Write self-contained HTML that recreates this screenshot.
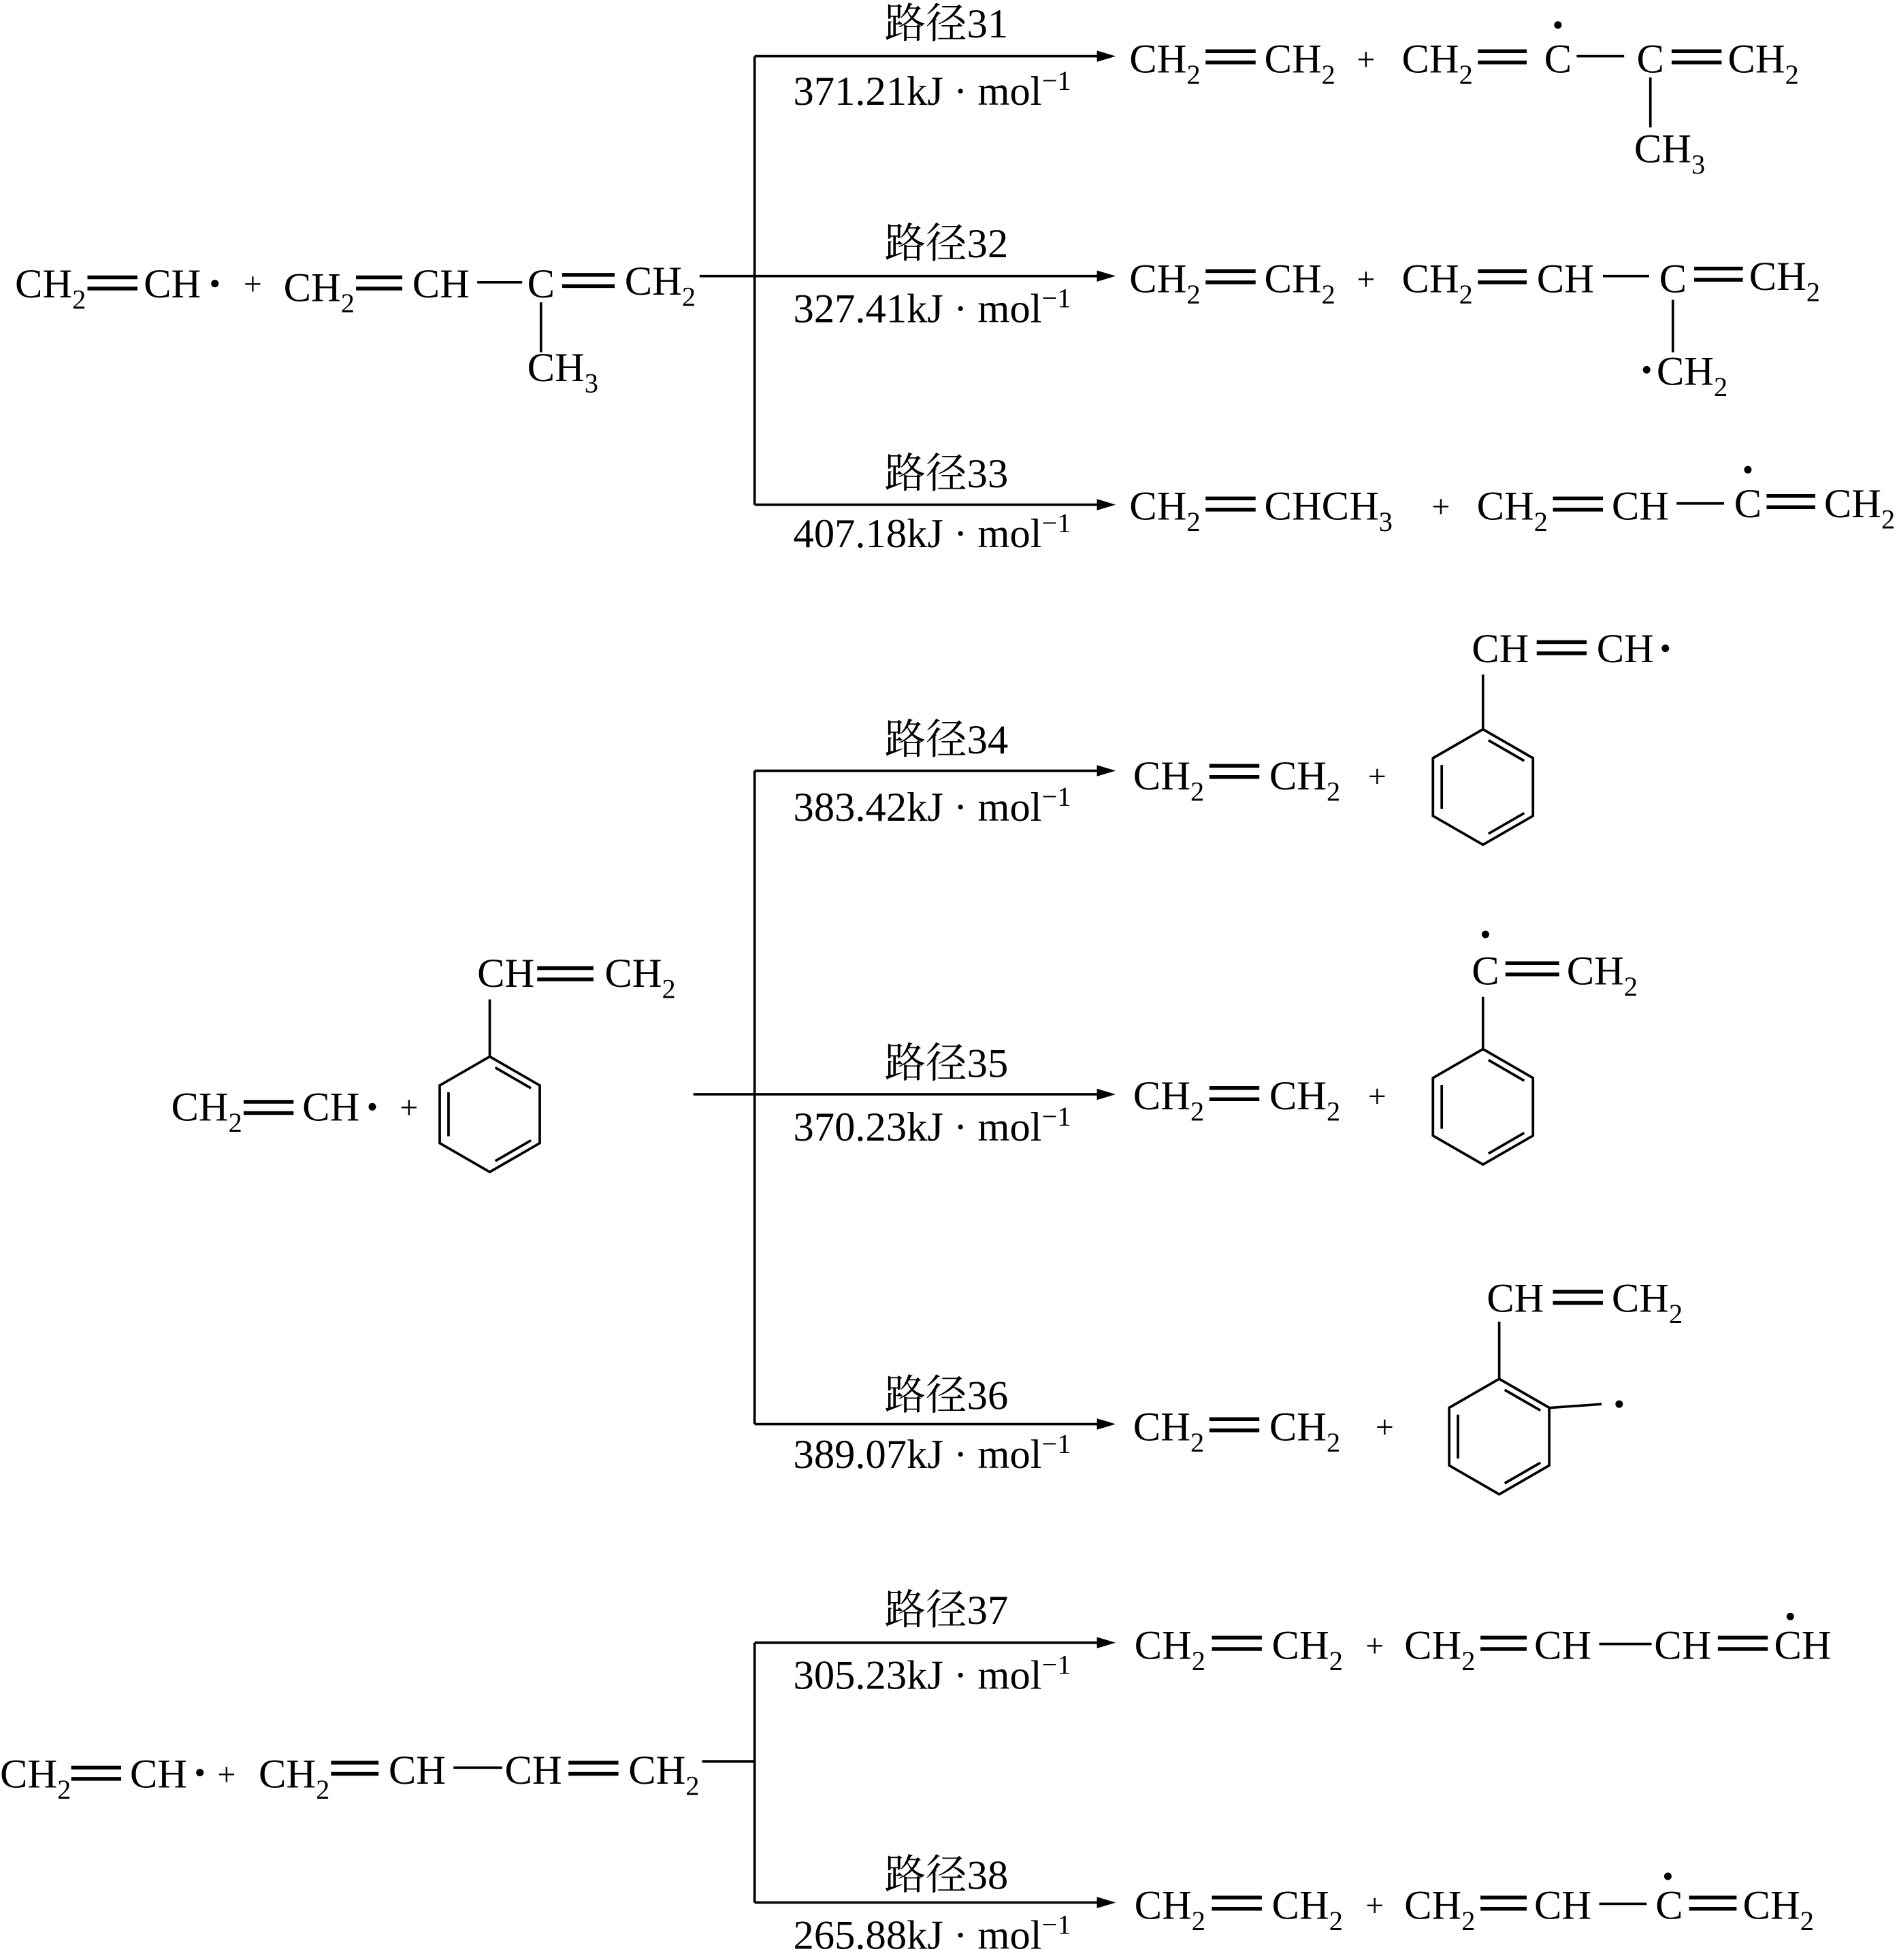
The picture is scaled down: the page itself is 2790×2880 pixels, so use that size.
<!DOCTYPE html>
<html><head><meta charset="utf-8"><style>
html,body{margin:0;padding:0;background:#fff;}
svg{display:block;}
text{font-family:"Liberation Serif","Noto Serif CJK SC",serif;font-size:33px;fill:#000;}
.s{font-size:22px;}
.p{font-size:26px;}
.cn{font-family:"Liberation Serif","Noto Serif CJK SC","Noto Sans CJK SC",serif;}
line,polyline,polygon.b{stroke:#000;stroke-width:2;fill:none;}
.d{stroke-width:3;}
circle{r:3px;}
</style></head><body>
<svg width="2790" height="2880" viewBox="0 0 1520 1569" preserveAspectRatio="none" xmlns="http://www.w3.org/2000/svg">
<defs>
<g id="bz0">
<polygon class="b" points="0,-42 36.4,-21 36.4,21 0,42 -36.4,21 -36.4,-21" style="stroke-width:1.85"/>
<line x1="4" y1="-34" x2="30" y2="-19" style="stroke-width:1.85"/>
<line x1="30" y1="19" x2="4" y2="34" style="stroke-width:1.85"/>
<line x1="-30" y1="16" x2="-30" y2="-16" style="stroke-width:1.85"/>
</g>
<g id="bz"><use href="#bz0" transform="scale(1.1)"/></g>
<g id="ah"><polygon points="0,0 -15,-4.5 -15,4.5" fill="#000"/></g>
</defs>

<!-- ===== Section 1 ===== -->
<text x="12" y="238">CH<tspan class="s" dy="9">2</tspan></text>
<line class="d" x1="70" y1="222" x2="110" y2="222"/><line class="d" x1="70" y1="231" x2="110" y2="231"/>
<text x="115" y="238">CH</text><circle cx="172" cy="227" r="3"/>
<text class="p" x="195" y="236">+</text>
<text x="227" y="241">CH<tspan class="s" dy="9">2</tspan></text>
<line class="d" x1="285" y1="222" x2="322" y2="222"/><line class="d" x1="285" y1="231" x2="322" y2="231"/>
<text x="330" y="238">CH</text>
<line x1="382" y1="226" x2="418" y2="226"/>
<text x="422" y="238">C</text>
<line class="d" x1="450" y1="220" x2="492" y2="220"/><line class="d" x1="450" y1="229" x2="492" y2="229"/>
<text x="500" y="236">CH<tspan class="s" dy="9">2</tspan></text>
<line x1="433" y1="242" x2="433" y2="282"/>
<text x="422" y="305">CH<tspan class="s" dy="9">3</tspan></text>
<line x1="560" y1="221" x2="604" y2="221"/>
<line x1="604" y1="45" x2="604" y2="404"/>

<line x1="604" y1="45" x2="886" y2="45"/><use href="#ah" x="893" y="45"/>
<line x1="604" y1="221" x2="886" y2="221"/><use href="#ah" x="893" y="221"/>
<line x1="604" y1="404" x2="886" y2="404"/><use href="#ah" x="893" y="404"/>

<text class="cn" x="708" y="30">路径31</text>
<text x="635" y="84">371.21kJ · mol<tspan class="s" dy="-12">−1</tspan></text>
<text class="cn" x="708" y="206">路径32</text>
<text x="635" y="258">327.41kJ · mol<tspan class="s" dy="-12">−1</tspan></text>
<text class="cn" x="708" y="390">路径33</text>
<text x="635" y="438">407.18kJ · mol<tspan class="s" dy="-12">−1</tspan></text>

<!-- 31 -->
<text x="904" y="58">CH<tspan class="s" dy="9">2</tspan></text>
<line class="d" x1="965" y1="41" x2="1005" y2="41"/><line class="d" x1="965" y1="50" x2="1005" y2="50"/>
<text x="1012" y="58">CH<tspan class="s" dy="9">2</tspan></text>
<text class="p" x="1086" y="56">+</text>
<text x="1122" y="58">CH<tspan class="s" dy="9">2</tspan></text>
<line class="d" x1="1183" y1="41" x2="1222" y2="41"/><line class="d" x1="1183" y1="50" x2="1222" y2="50"/>
<text x="1236" y="58">C</text><circle cx="1247" cy="20" r="3"/>
<line x1="1262" y1="45" x2="1300" y2="45"/>
<text x="1310" y="58">C</text>
<line class="d" x1="1338" y1="41" x2="1378" y2="41"/><line class="d" x1="1338" y1="50" x2="1378" y2="50"/>
<text x="1383" y="58">CH<tspan class="s" dy="9">2</tspan></text>
<line x1="1321" y1="62" x2="1321" y2="102"/>
<text x="1308" y="130">CH<tspan class="s" dy="9">3</tspan></text>

<!-- 32 -->
<text x="904" y="234">CH<tspan class="s" dy="9">2</tspan></text>
<line class="d" x1="965" y1="217" x2="1005" y2="217"/><line class="d" x1="965" y1="226" x2="1005" y2="226"/>
<text x="1012" y="234">CH<tspan class="s" dy="9">2</tspan></text>
<text class="p" x="1086" y="232">+</text>
<text x="1122" y="234">CH<tspan class="s" dy="9">2</tspan></text>
<line class="d" x1="1183" y1="217" x2="1222" y2="217"/><line class="d" x1="1183" y1="226" x2="1222" y2="226"/>
<text x="1230" y="234">CH</text>
<line x1="1283" y1="221" x2="1320" y2="221"/>
<text x="1328" y="234">C</text>
<line class="d" x1="1356" y1="215" x2="1395" y2="215"/><line class="d" x1="1356" y1="224" x2="1395" y2="224"/>
<text x="1400" y="232">CH<tspan class="s" dy="9">2</tspan></text>
<line x1="1339" y1="240" x2="1339" y2="282"/>
<circle cx="1318" cy="296" r="3"/>
<text x="1326" y="308">CH<tspan class="s" dy="9">2</tspan></text>

<!-- 33 -->
<text x="904" y="416">CH<tspan class="s" dy="9">2</tspan></text>
<line class="d" x1="965" y1="399" x2="1005" y2="399"/><line class="d" x1="965" y1="408" x2="1005" y2="408"/>
<text x="1012" y="416">CHCH<tspan class="s" dy="9">3</tspan></text>
<text class="p" x="1146" y="414">+</text>
<text x="1182" y="416">CH<tspan class="s" dy="9">2</tspan></text>
<line class="d" x1="1243" y1="399" x2="1283" y2="399"/><line class="d" x1="1243" y1="408" x2="1283" y2="408"/>
<text x="1290" y="416">CH</text>
<line x1="1342" y1="403" x2="1380" y2="403"/>
<text x="1388" y="414">C</text><circle cx="1399" cy="376" r="3"/>
<line class="d" x1="1414" y1="397" x2="1453" y2="397"/><line class="d" x1="1414" y1="406" x2="1453" y2="406"/>
<text x="1460" y="414">CH<tspan class="s" dy="9">2</tspan></text>

<!-- ===== Section 2 ===== -->
<text x="137" y="897">CH<tspan class="s" dy="9">2</tspan></text>
<line class="d" x1="195" y1="882" x2="235" y2="882"/><line class="d" x1="195" y1="891" x2="235" y2="891"/>
<text x="242" y="897">CH</text><circle cx="298" cy="886" r="3"/>
<text class="p" x="320" y="895">+</text>
<use href="#bz" x="392" y="892"/>
<line x1="392" y1="800" x2="392" y2="846"/>
<text x="382" y="790">CH</text>
<line class="d" x1="430" y1="775" x2="475" y2="775"/><line class="d" x1="430" y1="784" x2="475" y2="784"/>
<text x="484" y="790">CH<tspan class="s" dy="9">2</tspan></text>
<line x1="555" y1="876" x2="604" y2="876"/>
<line x1="604" y1="617" x2="604" y2="1140"/>

<line x1="604" y1="617" x2="886" y2="617"/><use href="#ah" x="893" y="617"/>
<line x1="604" y1="876" x2="886" y2="876"/><use href="#ah" x="893" y="876"/>
<line x1="604" y1="1140" x2="886" y2="1140"/><use href="#ah" x="893" y="1140"/>

<text class="cn" x="708" y="603">路径34</text>
<text x="635" y="657">383.42kJ · mol<tspan class="s" dy="-12">−1</tspan></text>
<text class="cn" x="708" y="862">路径35</text>
<text x="635" y="913">370.23kJ · mol<tspan class="s" dy="-12">−1</tspan></text>
<text class="cn" x="708" y="1128">路径36</text>
<text x="635" y="1175">389.07kJ · mol<tspan class="s" dy="-12">−1</tspan></text>

<!-- 34 -->
<text x="907" y="632">CH<tspan class="s" dy="9">2</tspan></text>
<line class="d" x1="968" y1="613" x2="1008" y2="613"/><line class="d" x1="968" y1="622" x2="1008" y2="622"/>
<text x="1016" y="632">CH<tspan class="s" dy="9">2</tspan></text>
<text class="p" x="1095" y="630">+</text>
<use href="#bz" x="1187" y="630"/>
<line x1="1187" y1="540" x2="1187" y2="584"/>
<text x="1178" y="530">CH</text>
<line class="d" x1="1230" y1="514" x2="1270" y2="514"/><line class="d" x1="1230" y1="523" x2="1270" y2="523"/>
<text x="1278" y="530">CH</text><circle cx="1333" cy="519" r="3"/>

<!-- 35 -->
<text x="907" y="888">CH<tspan class="s" dy="9">2</tspan></text>
<line class="d" x1="968" y1="871" x2="1008" y2="871"/><line class="d" x1="968" y1="880" x2="1008" y2="880"/>
<text x="1016" y="888">CH<tspan class="s" dy="9">2</tspan></text>
<text class="p" x="1095" y="886">+</text>
<use href="#bz" x="1187" y="886"/>
<line x1="1187" y1="798" x2="1187" y2="840"/>
<text x="1178" y="788">C</text><circle cx="1189" cy="748" r="3"/>
<line class="d" x1="1205" y1="771" x2="1248" y2="771"/><line class="d" x1="1205" y1="780" x2="1248" y2="780"/>
<text x="1254" y="788">CH<tspan class="s" dy="9">2</tspan></text>

<!-- 36 -->
<text x="907" y="1153">CH<tspan class="s" dy="9">2</tspan></text>
<line class="d" x1="968" y1="1136" x2="1008" y2="1136"/><line class="d" x1="968" y1="1145" x2="1008" y2="1145"/>
<text x="1016" y="1153">CH<tspan class="s" dy="9">2</tspan></text>
<text class="p" x="1101" y="1151">+</text>
<use href="#bz" x="1200" y="1150"/>
<line x1="1200" y1="1058" x2="1200" y2="1104"/>
<text x="1190" y="1050">CH</text>
<line class="d" x1="1243" y1="1034" x2="1283" y2="1034"/><line class="d" x1="1243" y1="1043" x2="1283" y2="1043"/>
<text x="1290" y="1050">CH<tspan class="s" dy="9">2</tspan></text>
<line x1="1240" y1="1127" x2="1282" y2="1124"/>
<circle cx="1296" cy="1124" r="3"/>

<!-- ===== Section 3 ===== -->
<text x="0" y="1431">CH<tspan class="s" dy="9">2</tspan></text>
<line class="d" x1="57" y1="1415" x2="97" y2="1415"/><line class="d" x1="57" y1="1424" x2="97" y2="1424"/>
<text x="104" y="1431">CH</text><circle cx="160" cy="1419" r="3"/>
<text class="p" x="174" y="1429">+</text>
<text x="207" y="1431">CH<tspan class="s" dy="9">2</tspan></text>
<line class="d" x1="265" y1="1411" x2="303" y2="1411"/><line class="d" x1="265" y1="1420" x2="303" y2="1420"/>
<text x="311" y="1428">CH</text>
<line x1="363" y1="1415" x2="402" y2="1415"/>
<text x="404" y="1428">CH</text>
<line class="d" x1="455" y1="1411" x2="495" y2="1411"/><line class="d" x1="455" y1="1420" x2="495" y2="1420"/>
<text x="503" y="1428">CH<tspan class="s" dy="9">2</tspan></text>
<line x1="562" y1="1410" x2="604" y2="1410"/>
<line x1="604" y1="1315" x2="604" y2="1523"/>

<line x1="604" y1="1315" x2="886" y2="1315"/><use href="#ah" x="893" y="1315"/>
<line x1="604" y1="1523" x2="886" y2="1523"/><use href="#ah" x="893" y="1523"/>

<text class="cn" x="708" y="1300">路径37</text>
<text x="635" y="1352">305.23kJ · mol<tspan class="s" dy="-12">−1</tspan></text>
<text class="cn" x="708" y="1512">路径38</text>
<text x="635" y="1560">265.88kJ · mol<tspan class="s" dy="-12">−1</tspan></text>

<!-- 37 -->
<text x="908" y="1328">CH<tspan class="s" dy="9">2</tspan></text>
<line class="d" x1="970" y1="1311" x2="1010" y2="1311"/><line class="d" x1="970" y1="1320" x2="1010" y2="1320"/>
<text x="1018" y="1328">CH<tspan class="s" dy="9">2</tspan></text>
<text class="p" x="1093" y="1326">+</text>
<text x="1124" y="1328">CH<tspan class="s" dy="9">2</tspan></text>
<line class="d" x1="1185" y1="1311" x2="1222" y2="1311"/><line class="d" x1="1185" y1="1320" x2="1222" y2="1320"/>
<text x="1228" y="1328">CH</text>
<line x1="1280" y1="1316" x2="1322" y2="1316"/>
<text x="1324" y="1328">CH</text>
<line class="d" x1="1375" y1="1311" x2="1415" y2="1311"/><line class="d" x1="1375" y1="1320" x2="1415" y2="1320"/>
<text x="1420" y="1328">CH</text><circle cx="1433" cy="1294" r="3"/>

<!-- 38 -->
<text x="908" y="1536">CH<tspan class="s" dy="9">2</tspan></text>
<line class="d" x1="970" y1="1519" x2="1010" y2="1519"/><line class="d" x1="970" y1="1528" x2="1010" y2="1528"/>
<text x="1018" y="1536">CH<tspan class="s" dy="9">2</tspan></text>
<text class="p" x="1093" y="1534">+</text>
<text x="1124" y="1536">CH<tspan class="s" dy="9">2</tspan></text>
<line class="d" x1="1185" y1="1519" x2="1222" y2="1519"/><line class="d" x1="1185" y1="1528" x2="1222" y2="1528"/>
<text x="1228" y="1536">CH</text>
<line x1="1280" y1="1524" x2="1318" y2="1524"/>
<text x="1325" y="1536">C</text><circle cx="1335" cy="1502" r="3"/>
<line class="d" x1="1352" y1="1519" x2="1390" y2="1519"/><line class="d" x1="1352" y1="1528" x2="1390" y2="1528"/>
<text x="1395" y="1536">CH<tspan class="s" dy="9">2</tspan></text>
</svg>
</body></html>
